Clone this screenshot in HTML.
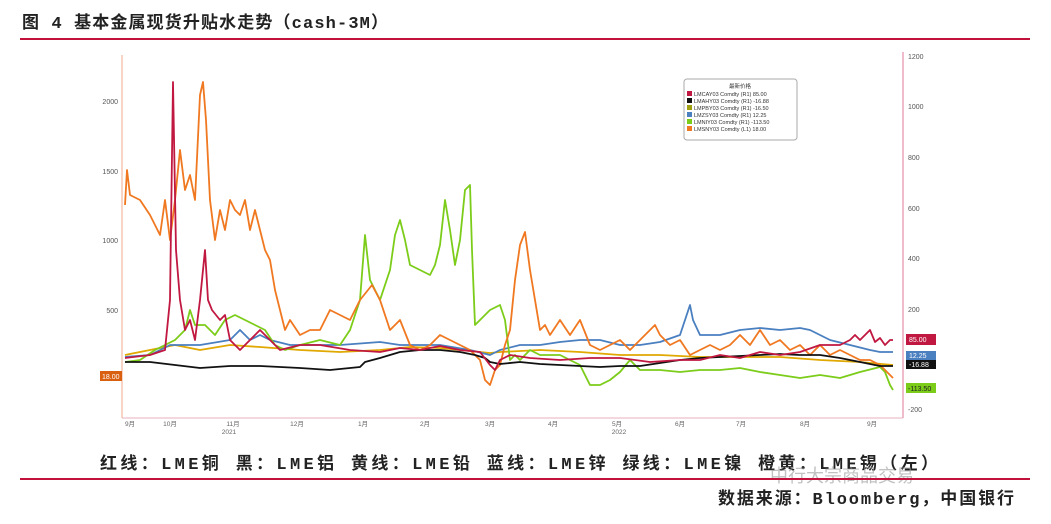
<!DOCTYPE html>
<html><head><meta charset="utf-8"><style>
body{margin:0;width:1051px;height:524px;background:#fff;overflow:hidden;font-family:"Liberation Sans","Noto Sans CJK SC",sans-serif}
</style></head><body>
<svg width="1051" height="524" viewBox="0 0 1051 524" xmlns="http://www.w3.org/2000/svg" style="position:absolute;left:0;top:0">
<text x="22" y="28" font-size="17" font-weight="bold" font-family="Liberation Mono,Noto Sans CJK SC,monospace" fill="#222" textLength="366" lengthAdjust="spacing">图 4 基本金属现货升贴水走势（cash-3M）</text>
<line x1="20" y1="39" x2="1030" y2="39" stroke="#c0123a" stroke-width="2"/>
<line x1="122" y1="55" x2="122" y2="418" stroke="#f2a98a" stroke-width="1"/>
<line x1="903" y1="52" x2="903" y2="418" stroke="#e27a9a" stroke-width="1"/>
<line x1="122" y1="418" x2="903" y2="418" stroke="#e8b0c0" stroke-width="1"/>
<g font-size="7" fill="#555" text-anchor="end">
<text x="118" y="104">2000</text><text x="118" y="174">1500</text><text x="118" y="243">1000</text><text x="118" y="313">500</text>
</g>
<g font-size="7" fill="#555">
<text x="908" y="59">1200</text><text x="908" y="109">1000</text><text x="908" y="160">800</text><text x="908" y="211">600</text><text x="908" y="261">400</text><text x="908" y="312">200</text><text x="908" y="412">-200</text>
</g>
<g font-size="6.5" fill="#666" text-anchor="middle">
<text x="130" y="426">9月</text><text x="170" y="426">10月</text><text x="233" y="426">11月</text><text x="297" y="426">12月</text><text x="363" y="426">1月</text><text x="425" y="426">2月</text><text x="490" y="426">3月</text><text x="553" y="426">4月</text><text x="617" y="426">5月</text><text x="680" y="426">6月</text><text x="741" y="426">7月</text><text x="805" y="426">8月</text><text x="872" y="426">9月</text>
<text x="229" y="434">2021</text><text x="619" y="434">2022</text>
</g>
<g fill="none" stroke-width="1.8" stroke-linejoin="round">
<polyline stroke="#e0a800" points="125,355 150,350 175,345 200,350 230,345 260,347 300,350 340,352 380,350 410,347 440,348 470,351 490,353 500,352 540,350 580,352 620,355 660,355 700,357 740,357 780,357 820,360 860,362 893,365"/>
<polyline stroke="#4a7fc0" points="125,357 150,355 170,345 200,345 230,340 240,330 250,340 260,335 270,340 290,345 310,345 340,345 380,342 400,345 440,345 470,350 490,355 500,350 520,345 540,345 560,342 580,340 600,340 620,345 640,345 660,342 680,335 685,320 690,305 693,320 700,335 720,335 740,330 760,328 780,330 800,328 810,330 830,340 850,345 870,350 880,352 893,352"/>
<polyline stroke="#7ccc1a" points="125,362 140,360 155,350 165,345 175,340 185,330 190,310 195,325 205,325 215,335 225,320 235,315 245,320 255,325 265,330 275,345 285,350 300,345 320,340 340,345 350,330 360,300 365,235 370,280 380,300 390,270 395,235 400,220 405,240 410,265 420,270 430,275 435,265 440,245 445,200 450,230 455,265 460,240 465,190 470,185 472,250 475,325 480,320 490,310 500,305 505,320 510,360 515,355 520,360 530,350 540,355 560,355 570,360 580,365 590,385 600,385 610,380 620,372 630,360 640,370 660,370 680,372 700,370 720,370 740,368 760,372 780,375 800,378 820,375 840,378 860,372 880,367 885,372 890,385 893,390"/>
<polyline stroke="#f07820" points="125,205 127,170 130,195 140,200 150,215 160,235 165,200 170,240 175,200 180,150 185,190 190,175 195,200 200,95 203,82 206,120 210,200 215,240 220,210 225,230 230,200 235,210 240,215 245,200 250,230 255,210 260,230 265,250 270,260 275,290 280,310 285,330 290,320 300,335 310,330 320,330 330,310 340,315 350,320 360,300 368,290 372,285 380,300 390,330 400,320 410,345 420,350 430,345 440,335 450,340 460,345 470,350 480,360 485,380 490,385 495,370 500,365 505,345 510,330 515,280 520,245 525,232 530,270 535,300 540,330 545,325 550,335 560,320 570,335 580,320 590,345 600,350 610,345 620,340 630,350 640,340 650,330 655,325 660,335 670,345 680,340 690,355 700,350 710,345 720,350 730,345 740,335 750,345 760,330 770,345 780,340 790,350 800,345 810,355 820,345 830,355 840,350 850,355 860,360 870,360 880,365 890,375 893,378"/>
<polyline stroke="#111" points="125,362 150,362 175,365 200,368 230,366 260,366 300,368 330,370 360,367 365,362 380,358 400,352 420,350 440,350 460,352 475,355 485,358 490,362 495,363 500,364 520,362 540,364 560,365 580,366 600,367 620,366 640,366 660,363 680,360 700,358 720,357 740,356 760,355 780,354 800,355 820,355 840,358 860,362 880,366 893,366"/>
<polyline stroke="#c01840" points="125,358 150,355 165,350 170,300 173,82 176,250 180,300 185,330 190,320 195,340 200,300 205,250 208,300 212,310 220,320 225,315 230,340 240,350 260,330 270,340 280,350 300,345 320,345 350,350 380,352 400,348 420,350 440,346 460,350 480,352 490,365 495,370 500,360 510,355 530,358 560,360 590,358 620,358 650,362 680,360 700,360 720,355 740,358 760,352 780,355 800,352 820,345 840,345 850,340 855,335 860,340 870,330 875,342 880,338 885,345 890,340 893,340"/>
</g>
<g font-size="7" fill="#fff">
<rect x="906" y="334" width="30" height="11" fill="#c01840"/><text x="909" y="342">85.00</text>
<rect x="906" y="351" width="30" height="9" fill="#4a7fc0"/><text x="909" y="358">12.25</text>
<rect x="906" y="360" width="30" height="9" fill="#111"/><text x="909" y="367">-16.88</text>
<rect x="906" y="383" width="30" height="10" fill="#7ccc1a"/><text x="908" y="391" fill="#222">-113.50</text>
<rect x="100" y="371" width="22" height="10" fill="#d86010"/><text x="102" y="379">18.00</text>
</g>
<rect x="684" y="79" width="113" height="61" rx="3" fill="#fff" stroke="#aaa"/>
<g font-size="5.5" fill="#333">
<text x="740" y="88" text-anchor="middle">最新价格</text>
<rect x="687" y="91" width="5" height="5" fill="#c01840"/><text x="694" y="96">LMCAY03 Comdty  (R1) 85.00</text>
<rect x="687" y="98" width="5" height="5" fill="#111"/><text x="694" y="103">LMAHY03 Comdty  (R1) -16.88</text>
<rect x="687" y="105" width="5" height="5" fill="#a0a010"/><text x="694" y="110">LMPBY03 Comdty  (R1) -16.50</text>
<rect x="687" y="112" width="5" height="5" fill="#4a7fc0"/><text x="694" y="117">LMZSY03 Comdty  (R1) 12.25</text>
<rect x="687" y="119" width="5" height="5" fill="#7ccc1a"/><text x="694" y="124">LMNIY03 Comdty  (R1) -113.50</text>
<rect x="687" y="126" width="5" height="5" fill="#f07820"/><text x="694" y="131">LMSNY03 Comdty  (L1) 18.00</text>
</g>
<text x="100" y="469" font-size="17" font-weight="bold" font-family="Liberation Mono,Noto Sans CJK SC,monospace" fill="#222" textLength="838" lengthAdjust="spacing">红线：LME铜  黑：LME铝 黄线：LME铅  蓝线：LME锌  绿线：LME镍 橙黄：LME锡（左）</text>
<text x="770" y="482" font-size="18" fill="#999" opacity="0.6">中行大宗商品交易</text>
<line x1="20" y1="479" x2="1030" y2="479" stroke="#c0123a" stroke-width="2"/>
<text x="718" y="504" font-size="17" font-weight="bold" font-family="Liberation Mono,Noto Sans CJK SC,monospace" fill="#222" textLength="296" lengthAdjust="spacing">数据来源：Bloomberg，中国银行</text>
</svg>
</body></html>
